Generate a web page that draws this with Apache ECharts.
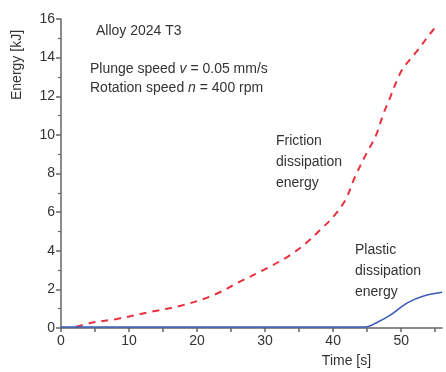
<!DOCTYPE html>
<html>
<head>
<meta charset="utf-8">
<script src="https://cdn.jsdelivr.net/npm/echarts@6/dist/echarts.min.js"></script>
<style>
  html, body { margin: 0; padding: 0; background: #fff; }
  #chart { width: 446px; height: 372px; }
</style>
</head>
<body>
<div id="chart"></div>
<script>
// values: time [s], energy [kJ]
const frictionTime = [2.2, 4.3, 8.2, 13.1, 18, 22.4, 26.3, 30.3, 33.7, 36.2, 38.1, 40, 41.8, 43.2, 45, 46.2, 47.4, 48.4, 49.4, 50.3, 52.1, 54.7, 55.3];
const frictionEnergy = [0.05, 0.26, 0.47, 0.83, 1.19, 1.7, 2.4, 3.1, 3.78, 4.45, 5.08, 5.75, 6.63, 7.82, 9.11, 9.89, 11.1, 11.96, 12.84, 13.46, 14.24, 15.43, 15.6];
const plasticTime = [0, 10, 20, 30, 40, 44.7, 46.5, 48.4, 50.9, 53.3, 56];
const plasticEnergy = [0.05, 0.05, 0.05, 0.05, 0.05, 0.05, 0.3, 0.67, 1.3, 1.66, 1.85];
const xTickValues = [0, 5, 10, 15, 20, 25, 30, 35, 40, 45, 50, 55];
const xLabelValues = [0, 10, 20, 30, 40, 50];

const zip = (a, b) => a.map((v, i) => [v, b[i]]);
const font = 'Liberation Sans, Arial, sans-serif';
const ink = '#333';

const chart = echarts.init(document.getElementById('chart'));
chart.setOption({
  animation: false,
  grid: { left: 61, right: 4, top: 19, bottom: 44, outerBoundsMode: 'none', containLabel: false },
  xAxis: {
    type: 'value', min: 0, max: 56,
    name: 'Time [s]', nameLocation: 'middle', nameGap: 26,
    nameTextStyle: { color: ink, fontSize: 14, fontFamily: font, padding: [0, 0, 0, 190] },
    axisLine: { lineStyle: { color: '#666', width: 1.5 } },
    axisTick: { customValues: xTickValues, length: 4, lineStyle: { color: '#666', width: 1.5 } },
    axisLabel: { customValues: xLabelValues, color: ink, fontSize: 14, fontFamily: font, margin: 6 },
    splitLine: { show: false }
  },
  yAxis: {
    type: 'value', min: 0, max: 16, interval: 2,
    axisLine: { show: true, lineStyle: { color: '#666', width: 1.5 } },
    axisTick: { show: true, length: 5, lineStyle: { color: '#666', width: 1.5 } },
    minorTick: { show: true, splitNumber: 2, length: 3, lineStyle: { color: '#666', width: 1.2 } },
    axisLabel: { color: ink, fontSize: 14, fontFamily: font, margin: 6 },
    splitLine: { show: false }
  },
  series: [
    {
      name: 'Friction dissipation energy', type: 'line', smooth: 0.35, symbol: 'none',
      data: zip(frictionTime, frictionEnergy),
      lineStyle: { color: '#e8303f', width: 2, type: [7, 6] }
    },
    {
      name: 'Plastic dissipation energy', type: 'line', smooth: 0.35, symbol: 'none',
      data: zip(plasticTime, plasticEnergy),
      lineStyle: { color: '#3a5cb8', width: 1.6 }
    }
  ],
  graphic: [
    {
      type: 'text', x: 10, y: 100, rotation: Math.PI / 2,
      style: { text: 'Energy [kJ]', fill: ink, font: '14px ' + font, align: 'left', verticalAlign: 'top' }
    },
    { type: 'text', left: 96, top: 24, style: { text: 'Alloy 2024 T3', fill: ink, font: '14px ' + font } },
    {
      type: 'text', left: 90, top: 62,
      style: {
        text: '{n|Plunge speed }{i|v}{n| = 0.05 mm/s}\n{n|Rotation speed }{i|n}{n| = 400 rpm}',
        rich: {
          n: { fill: ink, fontSize: 14, fontFamily: font, lineHeight: 19 },
          i: { fill: ink, fontSize: 14, fontFamily: font, fontStyle: 'italic', lineHeight: 19 }
        }
      }
    },
    { type: 'text', left: 276, top: 131, style: { text: 'Friction\ndissipation\nenergy', fill: ink, font: '14px ' + font, lineHeight: 21 } },
    { type: 'text', left: 355, top: 240, style: { text: 'Plastic\ndissipation\nenergy', fill: ink, font: '14px ' + font, lineHeight: 21 } }
  ]
});
</script>
</body>
</html>
